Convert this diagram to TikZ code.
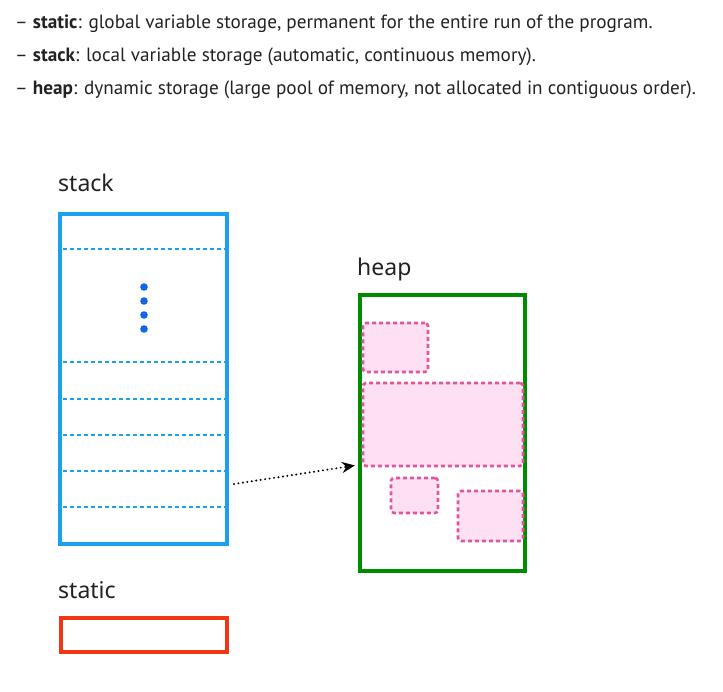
\documentclass[tikz,border=0pt]{standalone}
\usepackage{fontspec}
\setmainfont{PT Sans}
\newfontfamily\labelfont{Noto Sans}
\usetikzlibrary{positioning, arrows.meta}

\definecolor{stackblue}{RGB}{26,160,240}
\definecolor{dotblue}{RGB}{20,100,230}
\definecolor{heapgreen}{RGB}{0,140,0}
\definecolor{staticred}{RGB}{240,55,20}
\definecolor{blockfill}{RGB}{253,224,242}
\definecolor{blockline}{RGB}{225,85,155}
\definecolor{textgray}{RGB}{34,34,34}

\begin{document}
\begin{tikzpicture}[
        x=1pt, y=-1pt,
        >={Stealth[length=13pt, width=11pt]},
        desc/.style={anchor=base west, inner sep=0, text=textgray, font=\fontsize{19.2}{22}\selectfont},
        region/.style={anchor=base west, inner sep=0, text=textgray, font=\labelfont\fontsize{23}{26}\selectfont},
        memory/.style={draw, line width=4.2pt, inner sep=0, minimum width=#1},
        stackbox/.style={memory=167pt, draw=stackblue, minimum height=330pt},
        heapbox/.style={memory=165pt, draw=heapgreen, minimum height=276pt},
        staticbox/.style={memory=166pt, draw=staticred, minimum height=34pt},
        block/.style={draw=blockline, fill=blockfill, line width=2.6pt, dash pattern=on 4pt off 3pt, rounded corners=3pt, inner sep=0},
        slot/.style={draw=stackblue, line width=2.4pt, dash pattern=on 4pt off 3pt},
        pointer/.style={->, line width=2.2pt, line cap=round, dash pattern=on 0pt off 4.5pt, shorten >=3pt}
    ]
        \useasboundingbox (0,0) rectangle (723,692);

        % legend
        \node[desc] (lstatic) at (15,29) {– \textbf{static}: global variable storage, permanent for the entire run of the program.};
        \node[desc] (lstack) at (15,62) {– \textbf{stack}: local variable storage (automatic, continuous memory).};
        \node[desc] (lheap) at (15,95) {– \textbf{heap}: dynamic storage (large pool of memory, not allocated in contiguous order).};

        % stack
        \node[region] (stacklabel) at (58,192) {stack};
        \node[stackbox] (stack) at (143.5,379) {};
        \foreach \y in {249,362,399,435,471,507}
            \draw[slot] (63,\y) -- (225,\y);
        \foreach \y in {287,301,315,329}
            \fill[dotblue] (144,\y) circle (3.8pt);

        % heap
        \node[region] (heaplabel) at (357,276) {heap};
        \node[heapbox] (heap) at (442.5,433) {};
        \node[block, minimum width=65pt, minimum height=49pt] (blocka) at (395.5,347.5) {};
        \node[block, minimum width=160pt, minimum height=83pt] (blockb) at (443,424.5) {};
        \node[block, minimum width=47pt, minimum height=35pt] (blockc) at (414.5,495.5) {};
        \node[block, minimum width=65pt, minimum height=50pt] (blockd) at (490.5,516) {};

        % static
        \node[region] (staticlabel) at (58,598) {static};
        \node[staticbox] (static) at (144,635) {};

        % pointer from stack into heap
        \coordinate (ptr) at (234,484);
        \draw[pointer] (ptr) -- (heap.west |- 0,465);
\end{tikzpicture}
\end{document}
